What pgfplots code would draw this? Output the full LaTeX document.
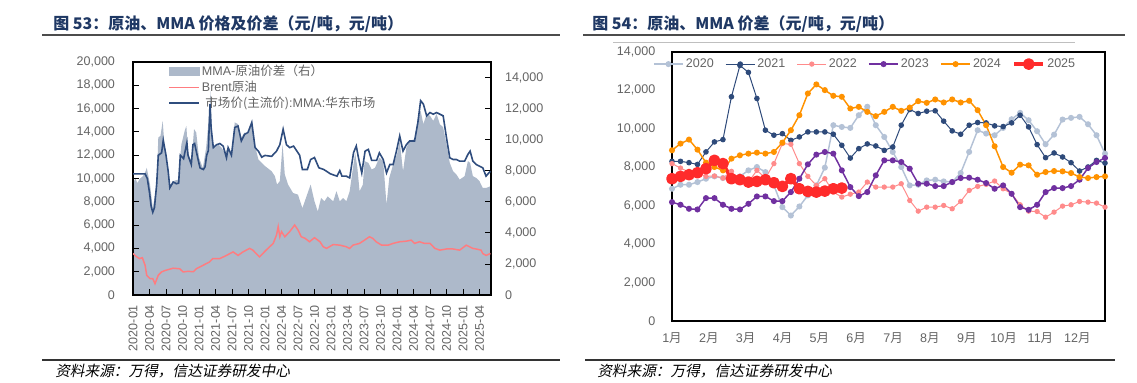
\documentclass[border=0pt]{standalone}
\usepackage{fontspec}
\setmainfont{Liberation Sans}
\newfontfamily\cjk{Noto Sans CJK SC}
\newfontfamily\cjkit[FakeSlant=0.2]{Noto Sans CJK SC}
\usepackage{pgfplots}
\usepackage{pgfplotstable}
\pgfplotsset{compat=1.18}

\definecolor{titlec}{HTML}{1F3864}
\definecolor{tickc}{HTML}{646464}
\definecolor{areac}{HTML}{ADB9CA}
\definecolor{mmac}{HTML}{2F4D7E}
\definecolor{brentc}{HTML}{FF7C80}
\definecolor{c2020}{HTML}{B4C2D6}
\definecolor{c2021}{HTML}{2E4A7A}
\definecolor{c2022}{HTML}{FF8B8B}
\definecolor{c2023}{HTML}{7030A0}
\definecolor{c2024}{HTML}{FF9200}
\definecolor{c2025}{HTML}{FF2B2B}

\pgfplotstableread{
m v
0 7110
0.4 7540
0.8 7200
1.2 7470
1.8 7650
2.3 7970
2.5 8180
3.1 7110
3.6 5590
4.3 7110
4.6 10140
5.0 10250
5.4 11210
5.7 9700
6.0 9050
6.4 7760
6.7 6890
7.3 7330
8.2 7430
8.8 9700
9.4 10570
9.7 10890
10.0 9270
10.6 8400
11.1 10680
11.5 10460
12.0 8840
12.7 8180
13.3 9480
13.8 11430
14.1 13160
14.4 9920
14.9 9480
15.5 9700
16.1 9480
16.7 9160
17.3 9480
17.9 9050
18.5 11110
19.1 11000
19.7 10140
20.3 10460
20.9 10350
21.6 11000
22.2 9590
22.8 8730
23.4 8510
24.0 8300
25.2 7970
25.8 7650
26.2 7110
26.7 7330
27.2 9700
27.6 7760
28.2 7110
29.1 6570
30.0 6460
30.8 5590
31.5 6300
32.3 7110
33.0 6030
33.6 5380
34.2 6240
34.8 6030
35.4 6350
36.4 6030
37.0 6680
37.6 6030
38.2 6240
38.8 6030
39.4 6680
40.0 8190
40.4 9160
40.8 8190
41.2 6680
41.8 7110
42.1 8620
42.8 8510
43.4 8080
44.0 8190
44.8 8840
45.5 8620
46.1 5810
46.6 7540
47.3 8400
48.0 9050
48.5 9920
49.1 7970
49.7 9480
50.3 9920
51.2 10030
51.8 11320
52.3 11860
52.8 11000
53.4 11650
54.0 11540
54.6 11210
55.2 11650
55.8 11000
56.4 10790
57.0 9700
57.6 8510
58.2 7970
58.8 7760
59.4 7430
60.3 7650
60.9 8620
61.3 8510
61.8 7650
62.4 7540
63.0 7330
63.6 6890
64.2 6890
65.0 7000
}\spread

\pgfplotstableread{
m v
0 10400
2.2 10400
2.6 10000
3.0 8800
3.3 7600
3.6 7100
3.9 7500
4.3 9470
4.6 12000
5.2 12200
5.5 13280
6.0 12000
6.4 10620
6.7 9200
7.3 9700
7.9 9550
8.3 9600
8.6 12000
9.2 11700
9.8 13080
10.0 12000
10.6 11200
10.9 12900
11.2 13000
11.9 11490
12.2 10900
12.8 10770
13.1 11000
13.4 12000
13.7 12400
14.0 16390
14.2 14380
14.6 12650
15.2 12900
15.8 13000
16.4 12780
17.0 11780
17.3 12650
17.9 12000
18.5 14380
19.1 14500
19.7 13220
20.3 13800
20.9 13940
21.6 14810
22.2 12650
22.8 12350
23.4 11830
24.0 11980
25.2 11900
26.1 12350
26.7 12900
27.3 14230
27.9 12900
28.5 12650
29.2 12780
29.8 12350
30.3 12000
30.8 10770
31.7 10770
32.3 11630
33.0 11800
33.8 10920
34.7 10770
35.9 10400
37.1 10200
37.6 10680
38.0 10200
38.8 10200
39.4 10050
40.1 12210
40.6 12790
41.0 11780
41.6 10480
42.2 12350
42.8 12500
43.4 11550
44.3 11550
44.8 12200
45.5 11630
46.1 10480
46.7 11200
47.3 11200
47.9 12350
48.5 13650
49.1 12350
49.7 12900
50.3 13220
51.2 13220
51.8 14810
52.3 16680
52.8 16390
53.4 15380
54.0 15660
54.6 15520
55.2 15660
55.8 15520
56.4 15380
57.0 13510
57.6 11780
58.2 11630
58.8 11630
59.4 11490
60.3 11490
60.9 12070
61.3 12350
61.8 11490
62.4 11200
63.0 11060
63.6 10920
64.2 10200
64.7 10480
65.0 10620
}\mma

\pgfplotstableread{
m v
0 3560
0.6 3300
1.2 3120
1.7 3200
2.2 2550
2.5 1690
3.1 1400
3.6 1400
4.0 970
4.6 1700
5.2 1980
5.8 2100
7.3 2300
8.5 2250
9.1 1980
10.0 2030
11.0 2000
11.5 2250
12.7 2540
13.9 2830
14.5 3130
15.8 3130
17.0 3400
18.2 3700
19.1 3400
20.0 3700
21.2 4000
21.8 3850
23.0 3270
24.2 3850
25.5 4430
26.1 5150
26.4 5870
26.7 5000
27.0 5440
27.6 5000
28.5 5440
29.4 6010
30.0 5580
30.6 5000
31.3 4860
32.1 4570
33.0 4920
34.0 4570
34.6 4140
35.2 4000
36.4 4330
37.6 4280
38.8 4140
39.4 4000
40.0 4280
41.2 4430
42.1 4710
43.0 5000
43.6 4860
44.2 4570
45.2 4280
46.4 4280
47.3 4430
48.5 4570
49.7 4620
50.6 4710
51.2 4430
52.1 4570
53.0 4430
54.0 4430
54.9 4000
55.8 3850
57.0 3950
58.2 3950
59.4 3850
60.6 4280
61.2 4140
61.8 4000
62.4 3950
63.3 3850
63.6 3560
64.2 3400
65.0 3560
}\brent

\pgfplotstableread{
w a b c d e
0 6883 8310 8190 6187 8884
1 7092 8310 7962 6048 9232
2 7092 8240 7750 5840 9441
3 7230 8150 7700 5805 8918
4 7405 8800 7527 6396 8240
5 7527 9320 7545 6396 8014
6 7440 9440 7440 6048 7840
7 7440 11670 7790 5840 8450
8 7527 13300 7230 5805 8624
9 7840 12940 7230 6100 8710
10 8014 11580 7840 6483 8762
11 7750 9930 7440 6483 8710
12 7057 9670 8190 6240 8797
13 5926 9750 9232 6240 9284
14 5490 9400 9197 6710 9928
15 5960 9580 8190 7405 10711
16 6535 9840 7527 8154 11842
17 7057 9840 7057 8658 12312
18 7980 9840 7405 8797 12016
19 10190 9720 6710 8710 11720
20 10100 9145 6450 7840 11668
21 10050 8480 6600 6970 11059
22 10710 8970 6710 6500 11146
23 11150 9215 7230 6710 10885
24 10190 9110 6970 7580 10660
25 9580 8880 6970 8360 10885
26 8797 9058 6970 8360 11146
27 8014 10190 7144 8275 10938
28 7057 11007 6274 7927 11110
29 7092 10800 5718 7144 11442
30 7318 10920 5926 7144 11355
31 7353 10940 5926 7022 11530
32 7266 10400 6013 7022 11373
33 7231 9894 5840 7231 11530
34 7700 9720 6222 7440 11373
35 8797 10190 6796 7458 11460
36 9928 10330 7005 7353 10972
37 9754 10310 7110 7180 10190
38 9667 10155 7284 6883 9093
39 10050 10120 6883 7057 8014
40 10500 10310 6622 6622 7718
41 10833 10710 6048 5926 8136
42 10450 10100 5718 5787 8100
43 9876 9180 5700 6048 7614
44 9200 8500 5404 6710 7753
45 9700 8745 5666 6918 7805
46 10485 8536 5979 6918 7788
47 10572 8240 6048 7022 7700
48 10624 7805 6222 7353 7492
49 10240 8015 6187 7962 7440
50 9667 8360 6135 8275 7492
51 8710 8220 5926 8485 7527
}\years

\pgfplotstableread{
w v
0 7405
1 7527
2 7614
3 7718
4 7927
5 8360
6 8190
7 7405
8 7353
9 7231
10 7266
11 7353
12 7196
13 7005
14 7405
15 6883
16 6744
17 6710
18 6762
19 6883
20 6918
}\yrfive

\pgfplotsset{
  base/.style={
    scale only axis,
    anchor=south west,
    tick align=inside,
    scaled y ticks=false,
    /pgf/number format/1000 sep={,},
    /pgf/number format/assume math mode=true,
    tick label style={font=\fontsize{9.4}{11}\selectfont, text=tickc},
    axis line style={line width=0.9pt, black},
    major tick style={black, line width=0.6pt},
  }
}

\begin{document}
\begin{tikzpicture}[x=0.75pt,y=0.75pt]
\path[use as bounding box] (0,0) rectangle (1137,382);

% titles and rules
\node[anchor=west, text=titlec, font=\fontsize{12}{14}\selectfont\cjk\bfseries, inner sep=0] at (53,358) {图 53：原油、MMA 价格及价差（元/吨，元/吨）};
\node[anchor=west, text=titlec, font=\fontsize{12}{14}\selectfont\cjk\bfseries, inner sep=0] at (592,358) {图 54：原油、MMA 价差（元/吨，元/吨）};
\draw[line width=0.8pt, black!70] (42,347) -- (560,347);
\draw[line width=0.8pt, black!70] (583,347) -- (1125,347);
\draw[line width=0.6pt, black!25] (613,340) -- (1075,340);
\draw[line width=0.8pt, black!80] (42,22) -- (560,22);
\draw[line width=0.8pt, black!80] (585,22) -- (1115,22);
\node[anchor=west, font=\fontsize{11}{12}\selectfont\cjkit, inner sep=0] at (55,11) {资料来源：万得，信达证券研发中心};
\node[anchor=west, font=\fontsize{11}{12}\selectfont\cjkit, inner sep=0] at (597,11) {资料来源：万得，信达证券研发中心};

% left chart: spread area on right axis
\begin{axis}[base, at={(99.75pt,65.25pt)}, width=268.5pt, height=174.75pt,
  xmin=0, xmax=65.1, ymin=0, ymax=15000,
  axis x line=none, axis y line*=right,
  ytick={0,2000,...,14000},
  yticklabel style={anchor=west},
  yticklabel shift=7pt,
  axis on top]
\addplot[fill=areac, draw=none] table[x=m,y=v] {\spread} \closedcycle;
\end{axis}

% left chart: prices on left axis
\begin{axis}[base, at={(99.75pt,65.25pt)}, width=268.5pt, height=174.75pt,
  xmin=0, xmax=65.1, ymin=0, ymax=20000,
  ytick={0,2000,...,20000}, ytick pos=left,
  xtick={0,3,...,63}, xtick pos=left,
  xticklabels={2020-01,2020-04,2020-07,2020-10,2021-01,2021-04,2021-07,2021-10,2022-01,2022-04,2022-07,2022-10,2023-01,2023-04,2023-07,2023-10,2024-01,2024-04,2024-07,2024-10,2025-01,2025-04},
  xticklabel style={rotate=90, anchor=east},
  xticklabel shift=4pt, yticklabel shift=10pt,
  legend style={at={(0.098,0.997)}, anchor=north west, draw=none, fill=none,
    font=\fontsize{9.4}{11}\selectfont, text=tickc, inner sep=0pt, row sep=-0.5pt,
    nodes={inner sep=1.5pt, anchor=west}},
  legend cell align=left]
\addlegendimage{legend image code/.code={\fill[areac] (0pt,-3.3pt) rectangle (22.5pt,3.3pt);}}
\addlegendentry{MMA-{\cjk 原油价差（右）}}
\addlegendimage{legend image code/.code={\draw[brentc, line width=1.1pt] (0pt,0pt) -- (22.5pt,0pt);}}
\addlegendentry{Brent{\cjk 原油}}
\addlegendimage{legend image code/.code={\draw[mmac, line width=1.2pt] (0pt,0pt) -- (22.5pt,0pt);}}
\addlegendentry{\ {\cjk 市场价(主流价)}:MMA:{\cjk 华东市场}}
\addplot[brentc, line width=1.1pt, forget plot] table[x=m,y=v] {\brent};
\addplot[mmac, line width=1.2pt, forget plot] table[x=m,y=v] {\mma};
\end{axis}

% right chart
\begin{axis}[base, at={(504pt,45.75pt)}, width=324.75pt, height=201.75pt,
  xmin=0, xmax=51, ymin=0, ymax=14000,
  ytick={0,2000,...,14000}, ytick pos=left,
  major tick length=0pt,
  xtick={0,4.34,8.68,13.02,17.36,21.7,26.04,30.38,34.72,39.06,43.4,47.74},
  xtick pos=left,
  xticklabels={1{\cjk 月},2{\cjk 月},3{\cjk 月},4{\cjk 月},5{\cjk 月},6{\cjk 月},7{\cjk 月},8{\cjk 月},9{\cjk 月},10{\cjk 月},11{\cjk 月},12{\cjk 月}},
  yticklabel shift=9pt, xticklabel shift=5pt,
  legend columns=6,
  legend style={at={(0.446,0.955)}, anchor=center, draw=none, fill=none,
    font=\fontsize{9.4}{11}\selectfont, text=tickc, inner sep=0pt,
    nodes={inner sep=1.5pt},
    /tikz/every even column/.append style={column sep=7pt}},
  legend image code/.code={\draw[mark repeat=2, mark phase=2, #1] plot coordinates {(0pt,0pt) (11pt,0pt) (22pt,0pt)};}]
\addplot[c2020, line width=1.1pt, mark=*, mark size=1.7pt, mark options={solid}] table[x=w,y=a] {\years};
\addlegendentry{2020}
\addplot[c2021, line width=0.75pt, mark=*, mark size=1.7pt, mark options={solid}] table[x=w,y=b] {\years};
\addlegendentry{2021}
\addplot[c2022, line width=0.75pt, mark=*, mark size=1.6pt, mark options={solid}] table[x=w,y=c] {\years};
\addlegendentry{2022}
\addplot[c2023, line width=1.1pt, mark=*, mark size=1.7pt, mark options={solid}] table[x=w,y=d] {\years};
\addlegendentry{2023}
\addplot[c2024, line width=1.1pt, mark=*, mark size=1.7pt, mark options={solid}] table[x=w,y=e] {\years};
\addlegendentry{2024}
\addplot[c2025, line width=2.8pt, line join=round, mark=*, mark size=3pt, mark options={solid}] table[x=w,y=v] {\yrfive};
\addlegendentry{2025}
\end{axis}
\end{tikzpicture}
\end{document}
